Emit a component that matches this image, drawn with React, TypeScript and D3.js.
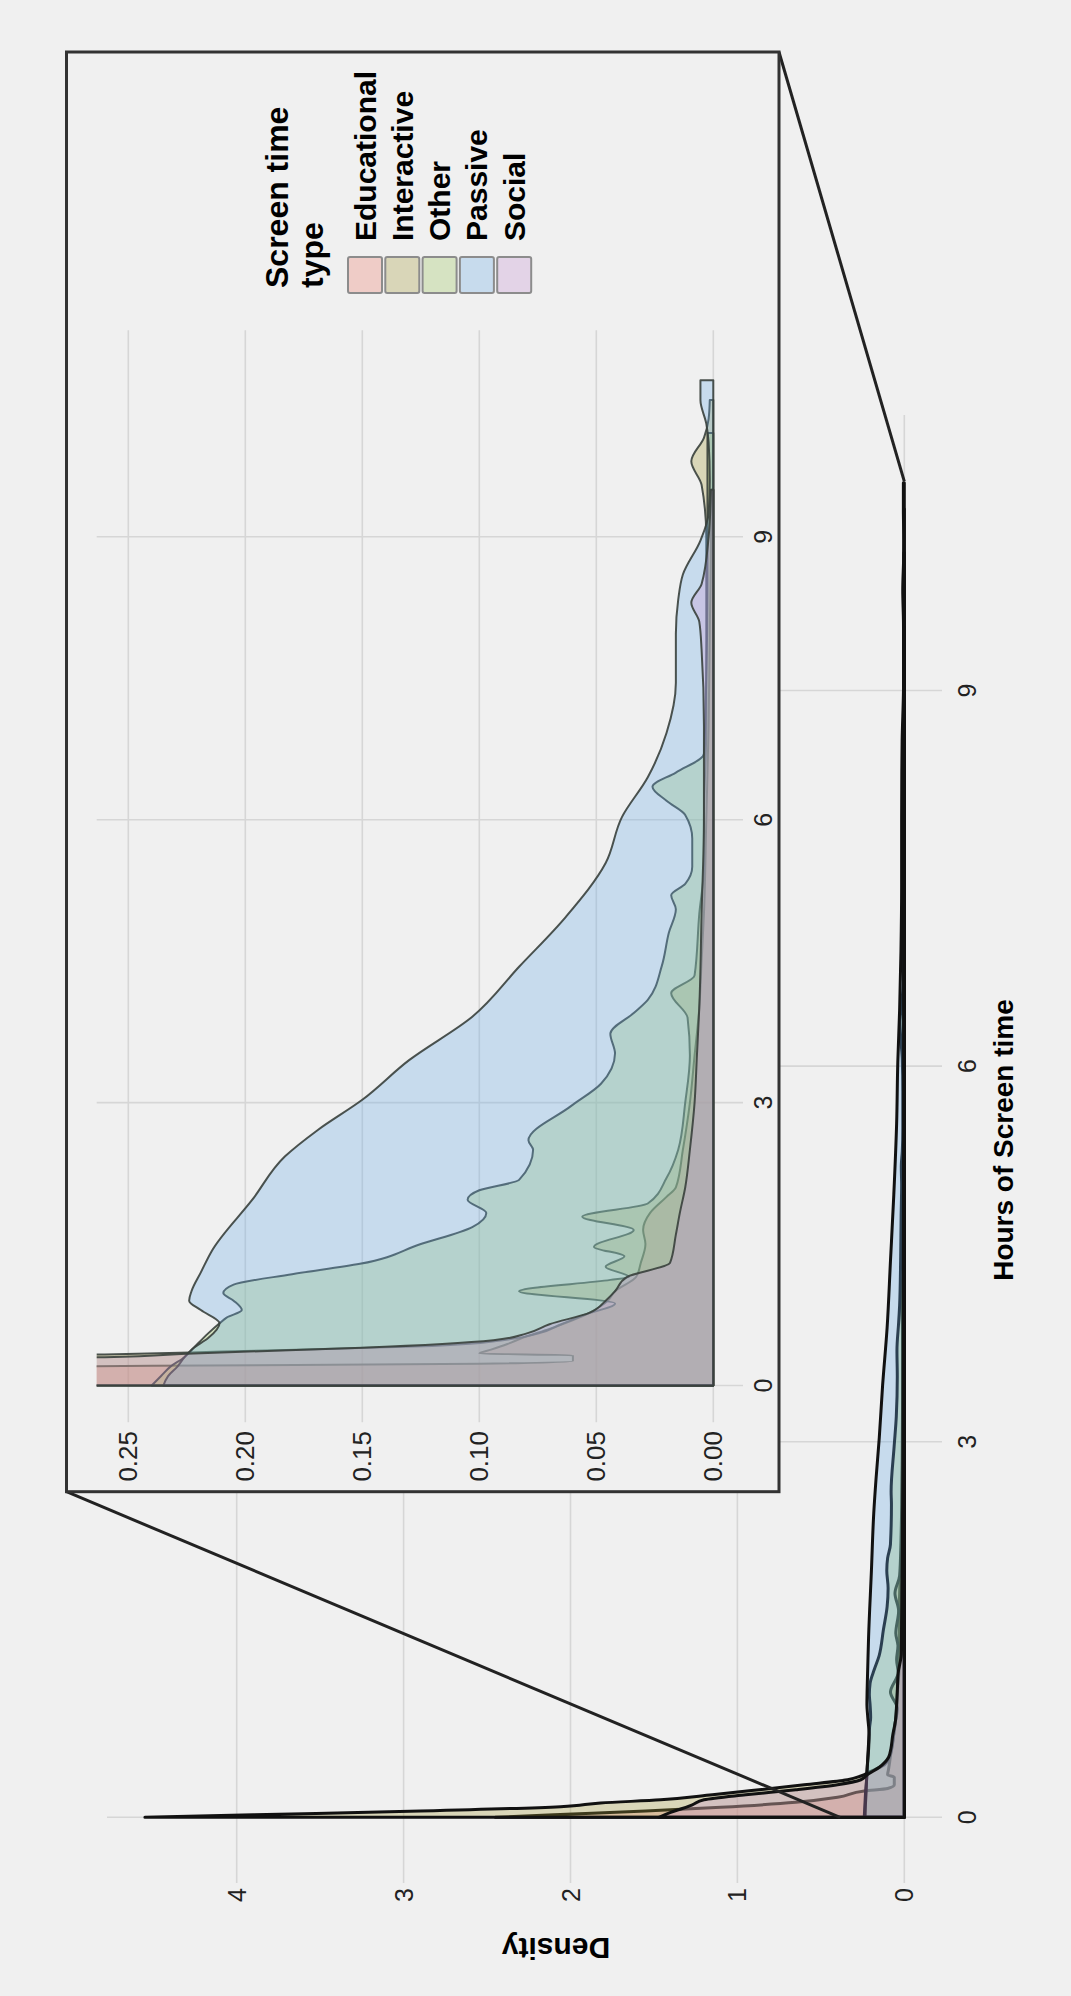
import React from "react";
import * as d3 from "d3";

// ---------- data (hours, density) per screen-time type ----------
const categories = ["Educational", "Interactive", "Other", "Passive", "Social"];

const hoursEducational = [0, 0.02, 0.05, 0.08, 0.12, 0.16, 0.21, 0.23, 0.26, 0.32, 0.34, 0.38, 0.44, 0.51, 0.6, 0.77, 0.9, 1.0, 1.15, 1.3, 1.5, 1.65, 1.83, 2.0, 2.1, 2.5, 3.0, 3.5, 4.0, 4.5, 5.0, 6.0, 7.0, 8.0, 9.0, 9.5];
const densEducational = [2.45, 2.1, 1.55, 1.1, 0.65, 0.4, 0.24, 0.1, 0.06, 0.06, 0.1, 0.095, 0.088, 0.081, 0.07, 0.053, 0.045, 0.042, 0.033, 0.031, 0.029, 0.03, 0.027, 0.02, 0.016, 0.013, 0.01, 0.008, 0.006, 0.005, 0.004, 0.003, 0.002, 0.0015, 0.001, 0.001];

const hoursInteractive = [0, 0.02, 0.05, 0.085, 0.114, 0.14, 0.18, 0.22, 0.26, 0.3, 0.33, 0.36, 0.42, 0.48, 0.55, 0.65, 0.75, 0.87, 1.0, 1.12, 1.15, 1.26, 1.37, 1.47, 1.65, 1.79, 1.93, 2.2, 2.5, 3.0, 3.5, 3.9, 4.16, 4.35, 5.0, 5.5, 6.0, 7.0, 8.0, 9.0, 9.55, 9.8, 10.05, 10.25, 10.45];
const densInteractive = [4.55, 3.9, 2.9, 2.06, 1.82, 1.46, 1.15, 0.87, 0.6, 0.34, 0.26, 0.21, 0.12, 0.09, 0.075, 0.065, 0.055, 0.042, 0.083, 0.044, 0.036, 0.046, 0.038, 0.051, 0.034, 0.056, 0.028, 0.02, 0.015, 0.012, 0.01, 0.011, 0.018, 0.008, 0.006, 0.004, 0.004, 0.003, 0.003, 0.003, 0.005, 0.0094, 0.004, 0.002, 0.0015];

const hoursOther = [0, 0.1, 0.2, 0.3, 0.4, 0.55, 0.66, 0.72, 0.8, 0.9, 0.98, 1.07, 1.18, 1.29, 1.5, 1.68, 1.83, 1.97, 2.07, 2.18, 2.5, 2.6, 2.96, 3.2, 3.52, 3.73, 3.95, 4.09, 4.45, 4.8, 5.05, 5.2, 5.32, 5.5, 5.8, 6.05, 6.2, 6.35, 6.5, 6.7, 7.5, 8.5, 9.5, 10.1];
const densOther = [0.24, 0.236, 0.232, 0.226, 0.222, 0.216, 0.211, 0.208, 0.2015, 0.205, 0.2094, 0.205, 0.18, 0.151, 0.125, 0.103, 0.097, 0.105, 0.1, 0.083, 0.077, 0.079, 0.061, 0.048, 0.042, 0.044, 0.034, 0.028, 0.022, 0.019, 0.016, 0.018, 0.012, 0.009, 0.009, 0.012, 0.02, 0.026, 0.016, 0.004, 0.003, 0.0025, 0.0025, 0.0025];

const hoursPassive = [0, 0.1, 0.2, 0.3, 0.4, 0.5, 0.66, 0.8, 0.9, 1.0, 1.2, 1.44, 1.97, 2.43, 2.71, 3.03, 3.45, 3.91, 4.44, 4.97, 5.54, 6.03, 6.45, 6.92, 7.45, 7.97, 8.33, 8.6, 8.96, 9.25, 9.6, 10.0, 10.2, 10.45, 10.66];
const densPassive = [0.235, 0.233, 0.229, 0.226, 0.222, 0.216, 0.211, 0.219, 0.224, 0.223, 0.219, 0.214, 0.197, 0.183, 0.169, 0.15, 0.13, 0.103, 0.083, 0.063, 0.046, 0.039, 0.028, 0.02, 0.016, 0.016, 0.015, 0.013, 0.0055, 0.002, 0.0015, 0.002, 0.003, 0.0055, 0.0055];

const hoursSocial = [0, 0.04, 0.07, 0.1, 0.14, 0.18, 0.22, 0.26, 0.3, 0.34, 0.4, 0.48, 0.55, 0.65, 0.77, 0.9, 1.0, 1.15, 1.3, 1.6, 1.83, 2.1, 2.5, 3.0, 3.5, 4.0, 5.0, 6.0, 7.0, 7.8, 8.1, 8.3, 8.5, 9.0, 9.5];
const densSocial = [1.47, 1.4, 1.33, 1.27, 1.2, 0.95, 0.65, 0.4, 0.26, 0.222, 0.15, 0.094, 0.08, 0.07, 0.053, 0.046, 0.042, 0.037, 0.0185, 0.016, 0.0143, 0.012, 0.01, 0.008, 0.007, 0.006, 0.005, 0.004, 0.004, 0.005, 0.006, 0.0094, 0.005, 0.002, 0.001];

const outerDensityTicks = [0, 1, 2, 3, 4];
const outerHourTicks = [0, 3, 6, 9];
const insetDensityTicks = [0, 0.05, 0.1, 0.15, 0.2, 0.25];
const insetHourTicks = [0, 3, 6, 9];

// ---------- styling ----------
const fills = ["rgb(240,123,107)", "rgb(167,157,57)", "rgb(157,200,90)", "rgb(107,173,233)", "rgb(200,147,213)"];
const FILL_OPACITY = 0.3;
const BG = "#f0f0f0";
const GRID = "#d6d6d6";
const FONT = "'Liberation Sans', Arial, Helvetica, sans-serif";

const seriesHours = [hoursEducational, hoursInteractive, hoursOther, hoursPassive, hoursSocial];
const seriesDens = [densEducational, densInteractive, densOther, densPassive, densSocial];

export default function App() {
  const W = 1071;
  const H = 1996;

  // outer chart (displayed rotated: density grows leftwards, hours grows upwards)
  const xO = d3.scaleLinear().domain([0, 4]).range([904.3, 236.7]);
  const yO = d3.scaleLinear().domain([0, 9]).range([1817.3, 690.5]);
  const outerX0 = xO(4.777), outerX1 = xO(-0.226);
  const outerY0 = yO(11.2), outerY1 = yO(-0.525);

  // inset chart
  const xI = d3.scaleLinear().domain([0, 0.25]).range([713.3, 128.3]);
  const yI = d3.scaleLinear().domain([0, 9]).range([1385.5, 536.8]);
  const inX0 = xI(0.2635), inX1 = xI(-0.0127);
  const inY0 = yI(11.19), inY1 = yI(-0.39);

  const box = { x0: 66.5, y0: 52, x1: 779, y1: 1491.7 };

  const series = categories.map((name, i) => ({
    name,
    fill: fills[i],
    pts: seriesHours[i].map((h, j) => [h, seriesDens[i][j]] as [number, number]),
  }));

  const mkArea = (xs: d3.ScaleLinear<number, number>, ys: d3.ScaleLinear<number, number>) =>
    d3
      .area<[number, number]>()
      .y((d) => ys(d[0]))
      .x0(xs(0))
      .x1((d) => xs(d[1]))
      .curve(d3.curveMonotoneY);

  const areaO = mkArea(xO, yO);
  const areaI = mkArea(xI, yI);
  const fmt2 = d3.format(".2f");

  const legendCx = (i: number) => 365 + i * 37.3;

  return (
    <svg
      width={W}
      height={H}
      viewBox={`0 0 ${W} ${H}`}
      style={{ position: "absolute", left: 0, top: 0, display: "block" }}
      fontFamily={FONT}
    >
      <defs>
        <clipPath id="clipOuter">
          <rect x={outerX0} y={outerY0} width={outerX1 - outerX0} height={outerY1 - outerY0} />
        </clipPath>
        <clipPath id="clipInset">
          <rect x={inX0} y={inY0} width={inX1 - inX0} height={inY1 - inY0} />
        </clipPath>
      </defs>
      <rect x={0} y={0} width={W} height={H} fill={BG} />

      {/* outer gridlines */}
      {outerDensityTicks.map((t) => (
        <line key={"odg" + t} x1={xO(t)} x2={xO(t)} y1={outerY0} y2={outerY1} stroke={GRID} strokeWidth={1.6} />
      ))}
      {outerHourTicks.map((t) => (
        <line key={"ohg" + t} x1={outerX0} x2={outerX1} y1={yO(t)} y2={yO(t)} stroke={GRID} strokeWidth={1.6} />
      ))}

      {/* outer densities */}
      <g clipPath="url(#clipOuter)">
        {series.map((s) => (
          <path
            key={"o" + s.name}
            d={areaO(s.pts) || ""}
            fill={s.fill}
            fillOpacity={FILL_OPACITY}
            stroke="#111"
            strokeWidth={3}
            strokeLinejoin="round"
          />
        ))}
      </g>

      {/* outer tick labels */}
      {outerDensityTicks.map((t) => (
        <text
          key={"odl" + t}
          transform={`translate(${xO(t)},1888) rotate(-90)`}
          textAnchor="end"
          dominantBaseline="central"
          fontSize={25}
          fill="#222"
        >
          {t}
        </text>
      ))}
      {outerHourTicks.map((t) => (
        <text
          key={"ohl" + t}
          transform={`translate(967,${yO(t)}) rotate(-90)`}
          textAnchor="middle"
          dominantBaseline="central"
          fontSize={25}
          fill="#222"
        >
          {t}
        </text>
      ))}
      <text
        transform={`translate(1003,1140) rotate(-90)`}
        textAnchor="middle"
        dominantBaseline="central"
        fontSize={28}
        fontWeight="bold"
        fill="#000"
      >
        Hours of Screen time
      </text>
      <text
        transform={`translate(556,1948) rotate(180)`}
        textAnchor="middle"
        dominantBaseline="central"
        fontSize={30}
        fontWeight="bold"
        fill="#000"
      >
        Density
      </text>

      {/* connector lines */}
      <line x1={box.x1} y1={box.y0} x2={xO(0)} y2={yO(10.67)} stroke="#222" strokeWidth={3} />
      <line x1={box.x0} y1={box.y1} x2={xO(0.385)} y2={yO(0)} stroke="#222" strokeWidth={3} />

      {/* inset box */}
      <rect
        x={box.x0}
        y={box.y0}
        width={box.x1 - box.x0}
        height={box.y1 - box.y0}
        fill={BG}
        stroke="#333"
        strokeWidth={3}
      />

      {/* inset gridlines */}
      {insetDensityTicks.map((t) => (
        <line key={"idg" + t} x1={xI(t)} x2={xI(t)} y1={inY0} y2={inY1} stroke={GRID} strokeWidth={1.6} />
      ))}
      {insetHourTicks.map((t) => (
        <line key={"ihg" + t} x1={inX0} x2={inX1} y1={yI(t)} y2={yI(t)} stroke={GRID} strokeWidth={1.6} />
      ))}

      {/* inset densities */}
      <g clipPath="url(#clipInset)">
        {series.map((s) => (
          <path
            key={"i" + s.name}
            d={areaI(s.pts) || ""}
            fill={s.fill}
            fillOpacity={FILL_OPACITY}
            stroke="#38403c"
            strokeOpacity={0.9}
            strokeWidth={2}
            strokeLinejoin="round"
          />
        ))}
      </g>

      {/* inset tick labels */}
      {insetDensityTicks.map((t) => (
        <text
          key={"idl" + t}
          transform={`translate(${xI(t)},1431) rotate(-90)`}
          textAnchor="end"
          dominantBaseline="central"
          fontSize={26}
          fill="#222"
        >
          {fmt2(t)}
        </text>
      ))}
      {insetHourTicks.map((t) => (
        <text
          key={"ihl" + t}
          transform={`translate(763,${yI(t)}) rotate(-90)`}
          textAnchor="middle"
          dominantBaseline="central"
          fontSize={25}
          fill="#222"
        >
          {t}
        </text>
      ))}

      {/* legend */}
      <text
        transform={`translate(277,288) rotate(-90)`}
        textAnchor="start"
        dominantBaseline="central"
        fontSize={32}
        fontWeight="bold"
        fill="#000"
      >
        Screen time
      </text>
      <text
        transform={`translate(312,288) rotate(-90)`}
        textAnchor="start"
        dominantBaseline="central"
        fontSize={32}
        fontWeight="bold"
        fill="#000"
      >
        type
      </text>
      {series.map((s, i) => (
        <g key={"lg" + s.name}>
          <rect
            x={legendCx(i) - 17}
            y={257}
            width={34}
            height={36}
            rx={2}
            fill={s.fill}
            fillOpacity={FILL_OPACITY}
            stroke="#8c8c8c"
            strokeWidth={2}
          />
          <text
            transform={`translate(${legendCx(i)},241) rotate(-90)`}
            textAnchor="start"
            dominantBaseline="central"
            fontSize={30}
            fontWeight="bold"
            fill="#000"
          >
            {s.name}
          </text>
        </g>
      ))}
    </svg>
  );
}
